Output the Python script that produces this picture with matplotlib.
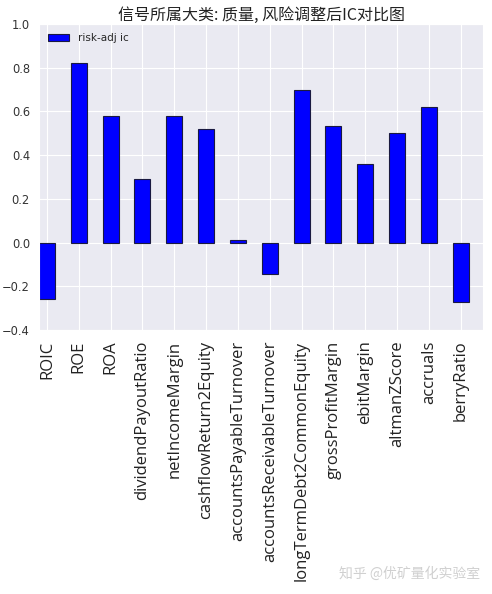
import matplotlib
matplotlib.use('Agg')
import matplotlib.pyplot as plt
import seaborn as sns
import numpy as np

sns.set_style('darkgrid')
plt.rcParams['font.family'] = ['DejaVu Sans', 'Noto Sans CJK SC']

factors = ['ROIC', 'ROE', 'ROA', 'dividendPayoutRatio', 'netIncomeMargin',
           'cashflowReturn2Equity', 'accountsPayableTurnover',
           'accountsReceivableTurnover', 'longTermDebt2CommonEquity',
           'grossProfitMargin', 'ebitMargin', 'altmanZScore', 'accruals',
           'berryRatio']
risk_adj_ic = [-0.26, 0.82, 0.58, 0.29, 0.58, 0.52, 0.01, -0.145, 0.70,
               0.535, 0.36, 0.50, 0.62, -0.27]

fig = plt.figure(figsize=(4.92, 5.94), dpi=100)
ax = fig.add_axes([39 / 492, 1 - 330 / 594, 444 / 492, 306 / 594])

x = np.arange(len(factors))
ax.bar(x, risk_adj_ic, width=0.5, color='#0000ff', edgecolor='#1a1a40',
       linewidth=0.8, label='risk-adj ic', zorder=2)
ax.set_xlim(-0.25, len(factors) - 0.3)
ax.set_ylim(-0.4, 1.0)
ax.set_yticks(np.arange(-0.4, 1.01, 0.2))
ax.set_xticks(x)
ax.set_xticklabels(factors, rotation=90, fontsize=12, family='Open Sans')
ax.tick_params(axis='y', labelsize=8.3, pad=3)
ax.tick_params(axis='x', pad=4)
for lab in ax.get_yticklabels():
    lab.set_color('#333333')
for lab in ax.get_xticklabels():
    lab.set_color('#222222')

ax.set_title('信号所属大类: 质量, 风险调整后IC对比图', fontsize=11.5,
             family=['Noto Sans CJK SC', 'DejaVu Sans'], pad=3,
             color='#222222')
ax.legend(loc='upper left', fontsize=7.5, frameon=False)

fig.text(0.975, 0.035, '知乎 @优矿量化实验室', ha='right', va='center',
         fontsize=10, color='#d0d0d0', family=['Noto Sans CJK SC'])

fig.savefig('out.png', dpi=100)
